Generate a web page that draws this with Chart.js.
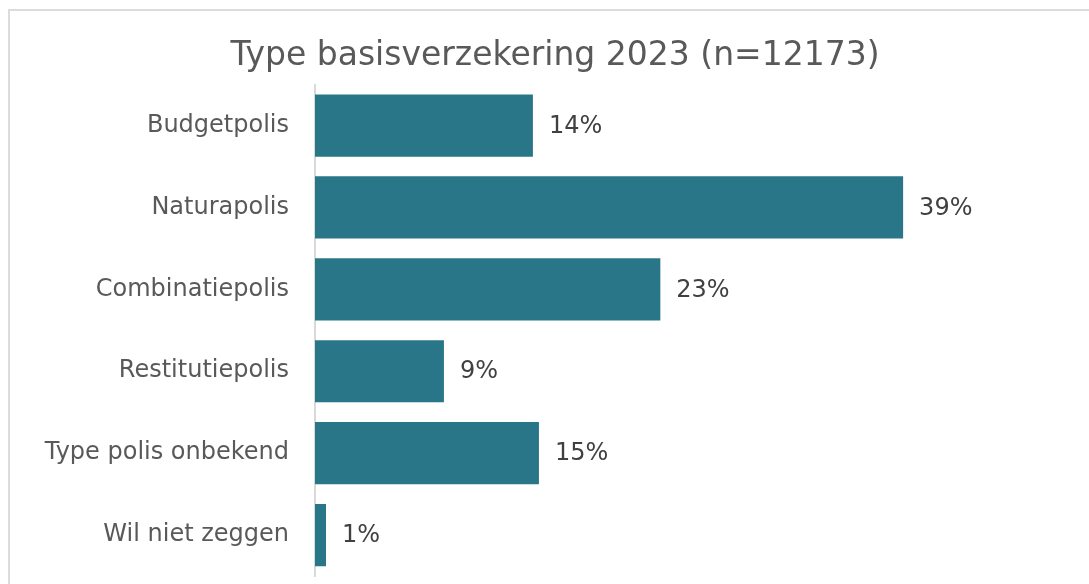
<!DOCTYPE html>
<html>
<head>
<meta charset="utf-8">
<script src="https://cdn.jsdelivr.net/npm/chart.js@4.4.1/dist/chart.umd.min.js"></script>
<style>
  html, body { margin: 0; padding: 0; background: #fff; overflow: hidden; }
  #frame { position: absolute; left: 8px; top: 9px; width: 1200px; height: 700px; border: 2px solid #dcdcdc; }
  #chart { position: absolute; left: 0; top: 0; }
</style>
</head>
<body>
<div id="frame"></div>
<canvas id="chart" width="1089" height="584"></canvas>
<script>
const categories = ['Budgetpolis', 'Naturapolis', 'Combinatiepolis', 'Restitutiepolis', 'Type polis onbekend', 'Wil niet zeggen'];
const shares = [14.45, 39.0, 22.9, 8.55, 14.85, 0.73];
const shareLabels = ['14%', '39%', '23%', '9%', '15%', '1%'];

const fontFamily = '"DejaVu Sans", Verdana, sans-serif';

// draws the percentage next to each bar
const barLabels = {
  id: 'barLabels',
  afterDatasetsDraw(chart) {
    const ctx = chart.ctx;
    const meta = chart.getDatasetMeta(0);
    ctx.save();
    ctx.font = '24px ' + fontFamily;
    ctx.fillStyle = '#404040';
    ctx.textAlign = 'left';
    ctx.textBaseline = 'middle';
    meta.data.forEach((bar, i) => {
      ctx.fillText(shareLabels[i], bar.x + 16, bar.y + 1);
    });
    ctx.restore();
  }
};

new Chart(document.getElementById('chart'), {
  type: 'bar',
  data: {
    labels: categories,
    datasets: [{
      data: shares,
      backgroundColor: '#2a7689',
      borderWidth: 0,
      barPercentage: 1,
      categoryPercentage: 0.76
    }]
  },
  options: {
    indexAxis: 'y',
    responsive: false,
    animation: false,
    layout: { padding: { left: 41, right: 20, top: 0, bottom: 8 } },
    plugins: {
      legend: { display: false },
      tooltip: { enabled: false },
      title: {
        display: true,
        text: 'Type basisverzekering 2023 (n=12173)',
        color: '#595959',
        font: { family: fontFamily, size: 33, weight: 'normal' },
        padding: { top: 37, bottom: 8 }
      }
    },
    scales: {
      x: { display: false, min: 0, max: 50 },
      y: {
        afterFit(scale) {
          scale.width = 274;
          // tick padding would otherwise reserve space below the bars
          scale.paddingTop = 0;
          scale.paddingBottom = 0;
        },
        grid: { display: false, drawTicks: false },
        border: { display: true, color: '#d9d9d9', width: 2 },
        ticks: {
          color: '#595959',
          padding: 26,
          font: { family: fontFamily, size: 24 }
        }
      }
    }
  },
  plugins: [barLabels]
});
</script>
</body>
</html>
